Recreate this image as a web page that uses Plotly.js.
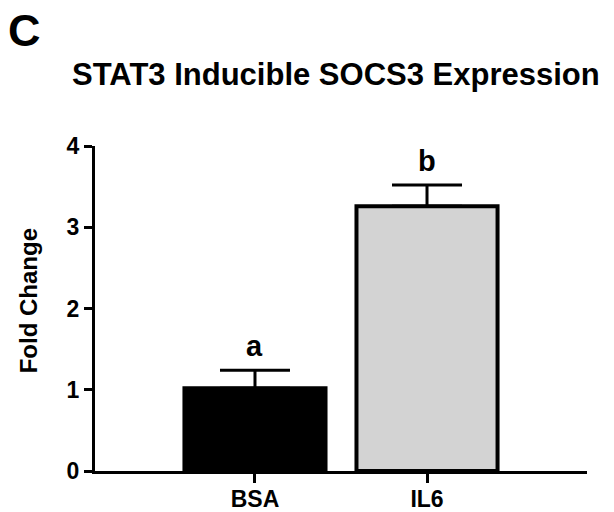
<!DOCTYPE html>
<html>
<head>
<meta charset="utf-8">
<script src="https://cdn.plot.ly/plotly-3.0.1.min.js"></script>
<style>html,body{margin:0;padding:0;background:#fff;}#chart{width:614px;height:512px;}</style>
</head>
<body>
<div id="chart"></div>
<script>
const categories = ['BSA', 'IL6'];
const foldChange = [1.02, 3.26];
const errorUp = [0.22, 0.26];
const groupLetters = ['a', 'b'];
const barColors = ['#000000', '#d3d3d3'];
const yTickValues = [0, 1, 2, 3, 4];

const FONT = 'Liberation Sans, Arial, sans-serif';

const trace = {
  type: 'bar',
  x: categories,
  y: foldChange,
  width: 0.82,
  marker: { color: barColors, line: { color: '#000', width: 4 } },
  error_y: {
    type: 'data', symmetric: false, array: errorUp,
    arrayminus: categories.map(() => 0),
    color: '#000', thickness: 3, width: 35
  },
  hoverinfo: 'none'
};

const letterAnnotations = categories.map((c, i) => ({
  x: c, y: foldChange[i] + errorUp[i], xref: 'x', yref: 'y',
  text: groupLetters[i], showarrow: false,
  yanchor: 'bottom', yshift: 6,
  font: { family: FONT, size: 29, color: '#000', weight: 'bold' }
}));

const layout = {
  width: 614, height: 512,
  margin: { l: 95, r: 27, t: 146, b: 41 },
  paper_bgcolor: '#fff', plot_bgcolor: '#fff',
  showlegend: false,
  title: {
    text: 'STAT3 Inducible SOCS3 Expression',
    xref: 'container', yref: 'container',
    x: 72 / 614, xanchor: 'left',
    y: 1 - 74 / 512, yanchor: 'middle',
    font: { family: FONT, size: 31, color: '#000', weight: 'bold' }
  },
  xaxis: {
    range: [-0.93, 1.93],
    showline: true, linecolor: '#000', linewidth: 3,
    ticks: 'outside', ticklen: 9, tickwidth: 3, tickcolor: '#000',
    ticklabelstandoff: -4,
    tickfont: { family: FONT, size: 23, color: '#000', weight: 'bold' },
    showgrid: false, zeroline: false, fixedrange: true
  },
  yaxis: {
    range: [0, 4],
    tickvals: yTickValues, ticktext: yTickValues.map(String),
    showline: true, linecolor: '#000', linewidth: 3,
    ticks: 'outside', ticklen: 8, tickwidth: 3, tickcolor: '#000',
    tickfont: { family: FONT, size: 23, color: '#000', weight: 'bold' },
    showgrid: false, zeroline: false, fixedrange: true
  },
  annotations: [
    {
      text: 'C', xref: 'paper', yref: 'paper',
      x: (24 - 95) / 492, y: (470.7 - 30) / 325,
      xanchor: 'center', yanchor: 'middle', showarrow: false,
      font: { family: FONT, size: 45, color: '#000', weight: 'bold' }
    },
    {
      text: 'Fold Change', xref: 'paper', yref: 'paper',
      x: (28 - 95) / 492, y: (470.7 - 301) / 325,
      xanchor: 'center', yanchor: 'middle', textangle: -90, showarrow: false,
      font: { family: FONT, size: 24, color: '#000', weight: 'bold' }
    },
    ...letterAnnotations
  ]
};

Plotly.newPlot('chart', [trace], layout, { displayModeBar: false, staticPlot: true });
</script>
</body>
</html>
